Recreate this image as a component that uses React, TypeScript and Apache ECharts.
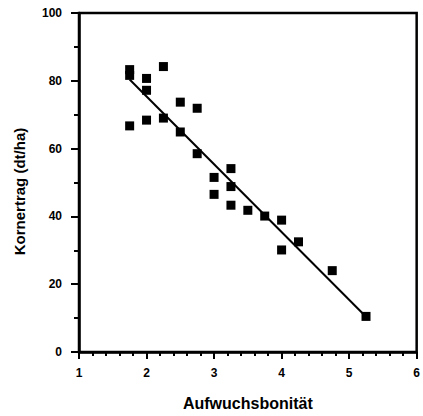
import React, { useEffect, useRef } from "react";
import * as echarts from "echarts";

const xValues = [1.75, 1.75, 1.75, 2, 2, 2, 2.25, 2.25, 2.5, 2.5, 2.75, 2.75, 3, 3, 3.25, 3.25, 3.25, 3.5, 3.75, 4, 4, 4.25, 4.75, 5.25];
const yValues = [83.3, 81.6, 66.7, 80.7, 77.2, 68.4, 84.2, 69, 73.7, 64.9, 71.9, 58.5, 51.5, 46.5, 54.1, 48.8, 43.3, 41.8, 40.1, 38.9, 30.1, 32.5, 24, 10.5];
const fitX = [1.75, 5.25];
const fitY = [80.4, 10.4];

export default function App() {
  const ref = useRef<HTMLDivElement>(null);
  useEffect(() => {
    if (!ref.current) return;
    const chart = echarts.init(ref.current, undefined, { renderer: "svg" });
    const font = "Liberation Sans, Arial, Helvetica, sans-serif";
    chart.setOption({
      animation: false,
      backgroundColor: "#fff",
      grid: {
        left: 79,
        top: 13,
        right: 4,
        bottom: 61,
        show: true,
        borderColor: "#000",
        borderWidth: 2.5,
        backgroundColor: "transparent",
      },
      xAxis: {
        type: "value",
        min: 1,
        max: 6,
        interval: 1,
        name: "Aufwuchsbonität",
        nameLocation: "middle",
        nameGap: 43,
        nameTextStyle: { fontFamily: font, fontWeight: "bold", fontSize: 16, color: "#000" },
        axisLine: { show: true, lineStyle: { color: "#000", width: 2.5 } },
        axisTick: { show: true, inside: false, length: 7, lineStyle: { color: "#000", width: 2 } },
        minorTick: { show: true, splitNumber: 5, length: 4, lineStyle: { color: "#000", width: 2 } },
        axisLabel: { margin: 15, fontFamily: font, fontWeight: "bold", fontSize: 12, color: "#000" },
        splitLine: { show: false },
      },
      yAxis: {
        type: "value",
        min: 0,
        max: 100,
        interval: 20,
        name: "Kornertrag (dt/ha)",
        nameLocation: "middle",
        nameGap: 52,
        nameTextStyle: { fontFamily: font, fontWeight: "bold", fontSize: 15, color: "#000", padding: [0, 18, 0, 0] },
        axisLine: { show: true, lineStyle: { color: "#000", width: 2.5 } },
        axisTick: { show: true, inside: false, length: 8, lineStyle: { color: "#000", width: 2 } },
        minorTick: { show: true, splitNumber: 2, length: 5, lineStyle: { color: "#000", width: 2 } },
        axisLabel: { margin: 17, fontFamily: font, fontWeight: "bold", fontSize: 12, color: "#000" },
        splitLine: { show: false },
      },
      series: [
        {
          type: "line",
          data: fitX.map((x, i) => [x, fitY[i]]),
          showSymbol: false,
          symbol: "none",
          lineStyle: { color: "#000", width: 2 },
          z: 2,
        },
        {
          type: "scatter",
          data: xValues.map((x, i) => [x, yValues[i]]),
          symbol: "rect",
          symbolSize: 9,
          itemStyle: { color: "#000", opacity: 1 },
          z: 3,
        },
      ],
    });
    return () => chart.dispose();
  }, []);
  return <div ref={ref} style={{ width: 423, height: 416, position: "absolute", left: 0, top: 0 }} />;
}
